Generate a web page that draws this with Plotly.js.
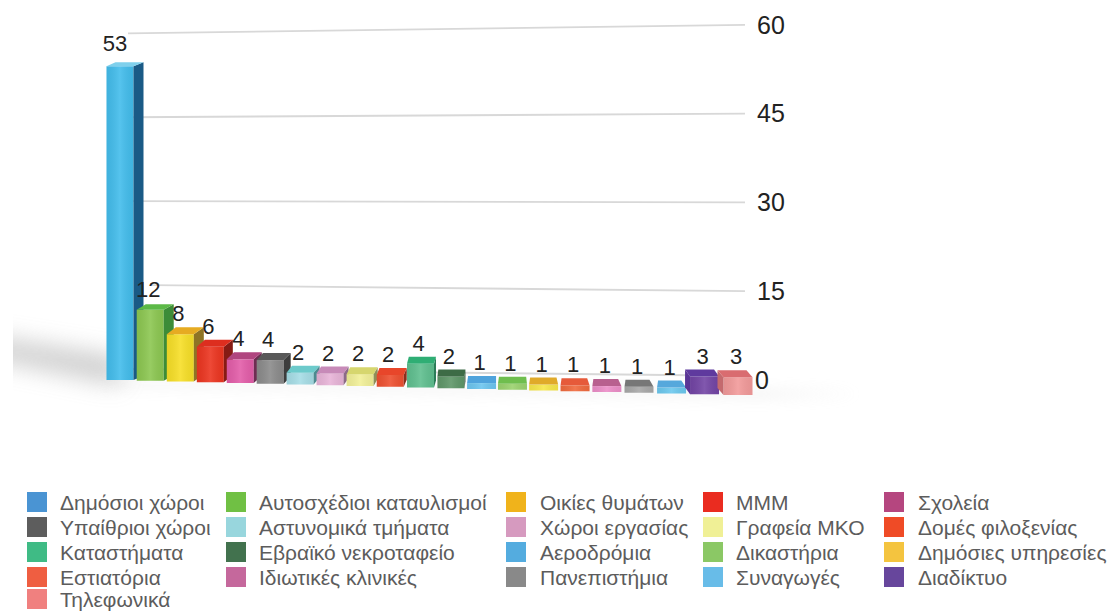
<!DOCTYPE html>
<html><head><meta charset="utf-8">
<script src="https://cdn.plot.ly/plotly-3.0.1.min.js"></script>
<style>html,body{margin:0;padding:0;background:#fff}#c{width:1109px;height:612px}</style>
</head><body><div id="c"></div>
<script>
// ---------- data ----------
const categories = ["Δημόσιοι χώροι","Αυτοσχέδιοι καταυλισμοί","Οικίες θυμάτων","ΜΜΜ","Σχολεία",
 "Υπαίθριοι χώροι","Αστυνομικά τμήματα","Χώροι εργασίας","Γραφεία ΜΚΟ","Δομές φιλοξενίας",
 "Καταστήματα","Εβραϊκό νεκροταφείο","Αεροδρόμια","Δικαστήρια","Δημόσιες υπηρεσίες",
 "Εστιατόρια","Ιδιωτικές κλινικές","Πανεπιστήμια","Συναγωγές","Διαδίκτυο","Τηλεφωνικά"];
const values = [53,12,8,6,4,4,2,2,2,2,4,2,1,1,1,1,1,1,1,3,3];
const legendColors = ["#4a94d3","#70c044","#f0b31b","#ea2c20","#b5467f","#5d5d5d","#98d6dd","#d69abf","#f0f096","#ef4b26",
 "#3fbb85","#42724e","#54acdf","#8bc865","#f4c43f","#ef5e41","#c5689c","#898989","#68bce8","#67469c","#f0807f"];
const frontColors = ["#43bdec","#8cc751","#f7df27","#ec3520","#e35da9","#8b8b8b","#a6dde6","#e8b4d8","#f2f098","#ee5030",
 "#5fbf8f","#5e9668","#6cc5ef","#9ad26e","#f7e74a","#f06a3e","#ec8ec8","#a8a8a8","#6cc8ee","#7345a5","#f29a9a"];
const topColors = ["#7fd0ec","#5cb947","#e6ab22","#dd2e1f","#b0457f","#595959","#6ccacb","#c78ab8","#d6d66e","#e8462a",
 "#2fae74","#3d6b46","#4fa3dc","#6fbe4e","#e0aa2a","#e65a3a","#b8608f","#777777","#56a8dc","#5f3a9e","#d96c70"];
const sideColors = ["#1a5a86","#3d8c38","#8e7425","#861b14","#6e2c52","#3d3d3d","#4d8a90","#8d6a88","#8f8f58","#8b2f1c",
 "#2b7c58","#2e5036","#3a7aa8","#5a9a40","#a88a25","#a84428","#8a4a6e","#666666","#3a7aa8","#5a3596","#c46a6e"];
const axisTicks = [0,15,30,45,60];

// ---------- projection of the tilted chart floor (pixels per unit, slots, depth) ----------
const W = 1109, H = 612, PX = 5.92, ZERO = 380;
const FONT = 'Liberation Sans, Arial, sans-serif';
const px2v = p => (ZERO - p) / PX;
const slot = i => 120 + 30.3*i - 0.08*i*i + 0.0055*i*i*i;
const barW = i => i < 12 ? 27 : 29;
const floorV = i => -0.75*i / PX;
const depthV = i => Math.min(7, 4 + 1.5*i) / PX;
const dx = i => i >= 19 ? -5 - (i-19) : (i <= 2 ? 10 : Math.max(0, 12 - i));

const traces = [];
axisTicks.forEach(v => {
  const startX = v === 15 ? 152 : 128, endX = v === 0 ? 690 : 745;
  traces.push({type:'scatter',mode:'lines',x:[startX,endX],y:[1.86+v*0.945, v===0?0.8:v],
    line:{color:'#d8d8d8',width:1.8},hoverinfo:'skip',showlegend:false,zorder:-1});
});
categories.forEach((name,i) => {
  const v = values[i], c = slot(i), w = barW(i), xl = c-w/2, xr = c+w/2;
  const b = floorV(i), t = b+v, d = depthV(i), s = dx(i);
  traces.push({type:'bar',name,x:[c],y:[v],base:[b],width:[w],marker:{color:frontColors[i],line:{width:0}},zorder:i,showlegend:false});
  traces.push({type:'scatter',mode:'none',x:[xl,xr,xr,xl,xl],y:[b,b,t,t,b],fill:'toself',
    fillgradient:{type:'horizontal',colorscale:[[0,'rgba(0,0,0,0.06)'],[0.5,'rgba(255,255,255,0.10)'],[1,'rgba(0,0,0,0.05)']]},
    hoverinfo:'skip',showlegend:false,zorder:i});
  if (s !== 0) {
    const e = s > 0 ? xr : xl;
    traces.push({type:'scatter',mode:'none',x:[e,e+s,e+s,e,e],y:[t,t+d,b+d,b,t],fill:'toself',fillcolor:sideColors[i],
      hoverinfo:'skip',showlegend:false,zorder:i});
  }
  const backL = i >= 19 ? xl+s : (s > 0 ? xl+s*0.9 : xl+1);
  const backR = i >= 19 ? xr+s : (s > 0 ? xr+s : xr-(i-12)*0.8);
  traces.push({type:'scatter',mode:'none',x:[xl,xr,backR,backL,xl],y:[t,t,t+d,t+d,t],fill:'toself',fillcolor:topColors[i],
    hoverinfo:'skip',showlegend:false,zorder:i});
});
traces.push({type:'scatter',mode:'text',x:categories.map((_,i)=>slot(i)-(i===0?5:2)),
  y:values.map((v,i)=>floorV(i)+v+(i===0?3.5:3.1)),text:values.map(String),textposition:'middle center',
  textfont:{family:FONT,size:22,color:'#222'},hoverinfo:'skip',showlegend:false,cliponaxis:false,zorder:50});

// ---------- legend ----------
const colX = [27,226,506,703,884], textX = [59,258,539,735,917], rowY = [502,527,552,577,599];
const shapes = [], annotations = [];
categories.forEach((name,i) => {
  const cx = colX[i%5], cy = rowY[Math.floor(i/5)];
  shapes.push({type:'rect',xref:'paper',yref:'paper',x0:cx/W,x1:(cx+20)/W,y0:1-(cy-10)/H,y1:1-(cy+10)/H,
    fillcolor:legendColors[i],line:{width:0}});
  annotations.push({xref:'paper',yref:'paper',x:textX[i%5]/W,y:1-cy/H,xanchor:'left',yanchor:'middle',showarrow:false,
    text:name,font:{family:FONT,size:21,color:'#5c5c5c'},borderpad:0});
});
annotations.push({xref:'paper',yref:'y',x:754/W,y:0,xanchor:'left',yanchor:'middle',showarrow:false,text:'0',
  font:{family:FONT,size:25,color:'#222'},borderpad:0});

// ---------- soft floor shadow ----------
const shadow = `<svg xmlns="http://www.w3.org/2000/svg" width="${W}" height="${H}">
<defs><filter id="b" x="-30%" y="-100%" width="160%" height="300%"><feGaussianBlur stdDeviation="12"/></filter>
<filter id="f" x="-30%" y="-300%" width="160%" height="700%"><feGaussianBlur stdDeviation="7"/></filter>
<clipPath id="cl"><rect x="13" y="300" width="200" height="120"/></clipPath></defs>
<g clip-path="url(#cl)"><polygon points="-20,336 120,358 120,384 -20,356" fill="#a8a8a8" opacity="0.62" filter="url(#b)"/></g>
<polygon points="110,386 760,398 860,394 760,390 110,380" fill="#cfcfcf" opacity="0.28" filter="url(#f)"/>
</svg>`;

const layout = {
  width:W,height:H,margin:{l:0,r:0,t:0,b:0},paper_bgcolor:'#fff',plot_bgcolor:'rgba(0,0,0,0)',
  barmode:'overlay',showlegend:false,
  xaxis:{range:[0,W],visible:false,fixedrange:true},
  yaxis:{range:[px2v(H),px2v(0)],side:'right',anchor:'free',position:756/W,tickmode:'array',tickvals:axisTicks,
    ticktext:axisTicks.map(v=>v===0?' ':String(v)),showgrid:false,zeroline:false,showline:false,ticks:'',fixedrange:true,
    tickfont:{family:FONT,size:25,color:'#222'}},
  images:[{source:'data:image/svg+xml;utf8,'+encodeURIComponent(shadow),xref:'paper',yref:'paper',x:0,y:1,sizex:1,sizey:1,
    xanchor:'left',yanchor:'top',sizing:'stretch',layer:'below'}],
  shapes,annotations
};
Plotly.newPlot('c',traces,layout,{displayModeBar:false,staticPlot:true});
</script></body></html>
